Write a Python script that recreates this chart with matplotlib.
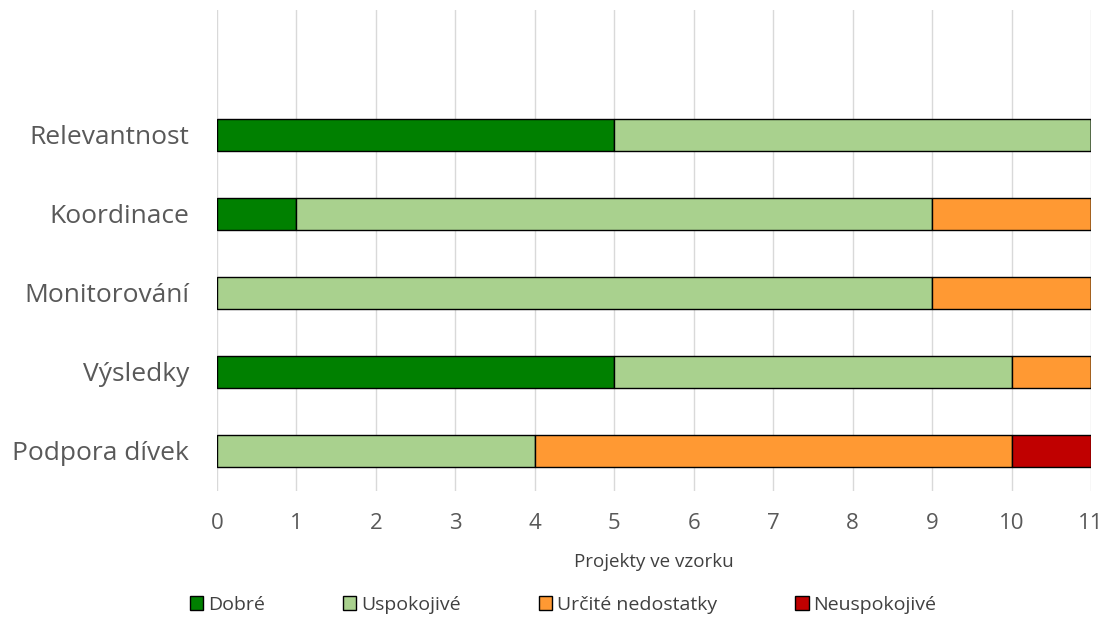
import matplotlib
matplotlib.use("Agg")
import matplotlib.pyplot as plt
import numpy as np

categories = ["Relevantnost", "Koordinace", "Monitorování", "Výsledky", "Podpora dívek"]
series_names = ["Dobré", "Uspokojivé", "Určité nedostatky", "Neuspokojivé"]
dobre = [5, 1, 0, 5, 0]
uspokojive = [6, 8, 9, 5, 4]
urcite = [0, 2, 2, 1, 6]
neuspokojive = [0, 0, 0, 0, 1]
colors = ["#008000", "#A9D18E", "#FF9933", "#C00000"]
x_ticks = list(range(0, 12))

plt.rcParams["font.family"] = ["Open Sans", "DejaVu Sans"]

fig = plt.figure(figsize=(11.05, 6.17), dpi=100)
ax = fig.add_axes([217 / 1105, 1 - 490.5 / 617, (1091 - 217) / 1105, (490.5 - 10) / 617])

y = np.arange(len(categories))[::-1]
left = np.zeros(len(categories))
for name, vals, col in zip(series_names, [dobre, uspokojive, urcite, neuspokojive], colors):
    vals = np.array(vals, dtype=float)
    ax.barh(y, vals, left=left, height=0.4, color=col, edgecolor="black",
            linewidth=1.0, label=name, zorder=3)
    left += vals

ax.set_xlim(0, 11)
ax.set_ylim(-0.5, 5.58)
ax.set_xticks(x_ticks)
ax.set_yticks(y)
ax.set_yticklabels(categories)
ax.tick_params(axis="y", length=0, labelsize=19, labelcolor="#595959", pad=20)
ax.tick_params(axis="x", length=0, labelsize=16, labelcolor="#595959", pad=16)
ax.grid(axis="x", color="#D9D9D9", linewidth=1.0, zorder=0)
for s in ax.spines.values():
    s.set_visible(False)
ax.set_xlabel("Projekty ve vzorku", fontsize=13.5, color="#404040", labelpad=14)

handles, labels = ax.get_legend_handles_labels()
fig.legend(handles, labels, loc="center", bbox_to_anchor=(563 / 1105, 1 - 605 / 617),
           ncol=4, frameon=False, fontsize=14, labelcolor="#404040",
           handlelength=0.7, handleheight=0.7, handletextpad=0.25, columnspacing=4.0)

fig.savefig("out.png", dpi=100)
